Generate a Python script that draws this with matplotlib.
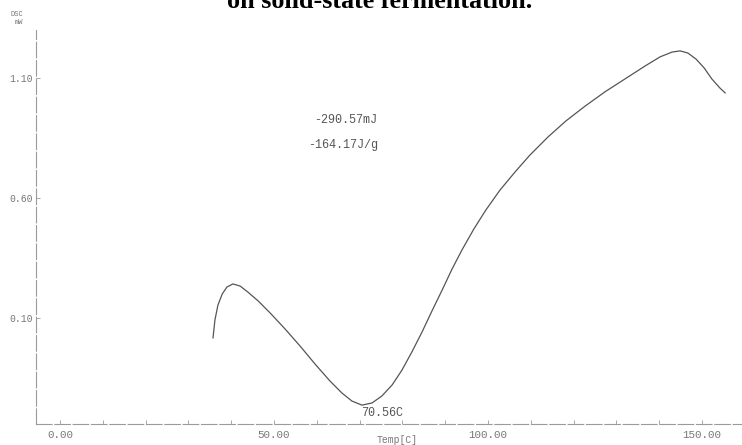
import matplotlib
matplotlib.use("Agg")
import matplotlib.pyplot as plt
from matplotlib.ticker import FixedLocator, MultipleLocator

# DSC scan: temperature (C) vs heat flow (mW)
temp_c = [35.75, 36.2, 36.9, 37.9, 39.0, 40.4, 42.1, 43.9, 46.3, 49.1,
          52.6, 56.1, 59.6, 63.1, 65.9, 68.2, 70.56, 72.9, 75.2, 77.6,
          79.9, 82.2, 84.6, 86.9, 89.3, 91.6, 93.9, 96.7, 99.5, 102.8,
          106.3, 109.8, 114.0, 118.2, 122.7, 127.3, 132.0, 136.7, 140.2,
          143.0, 144.9, 146.7, 148.6, 150.5, 152.3, 154.2, 155.4]
heat_flow = [0.017, 0.092, 0.154, 0.200, 0.229, 0.242, 0.233, 0.208, 0.171,
             0.121, 0.054, -0.017, -0.092, -0.163, -0.213, -0.246, -0.263,
             -0.254, -0.225, -0.179, -0.117, -0.042, 0.042, 0.129, 0.217,
             0.304, 0.383, 0.471, 0.550, 0.633, 0.708, 0.779, 0.854, 0.921,
             0.983, 1.042, 1.096, 1.150, 1.188, 1.208, 1.213, 1.204, 1.179,
             1.142, 1.096, 1.058, 1.038]

y_ticks = [0.10, 0.60, 1.10]
y_tick_labels = ["0.10", "0.60", "1.10"]
x_ticks = [0, 50, 100, 150]
x_tick_labels = ["0.00", "50.00", "100.00", "150.00"]

peak_temp = 70.56
peak_label = "70.56C"
energy_text = "-290.57mJ"
enthalpy_text = "-164.17J/g"

W, H = 742, 445
fig = plt.figure(figsize=(W / 100, H / 100), dpi=100)
fig.patch.set_facecolor("white")

# axes box in pixel terms (origin top-left)
left_px, bottom_px, top_px = 36, 424, 30
ax = fig.add_axes([left_px / W, (H - bottom_px) / H,
                   (W - left_px) / W, (bottom_px - top_px) / H])

px_per_c = 4.28
x0_px = 60
ax.set_xlim((left_px - x0_px) / px_per_c, (W - x0_px) / px_per_c)
px_per_mw = 240
ax.set_ylim(0.10 - (bottom_px - 318) / px_per_mw,
            0.10 + (318 - top_px) / px_per_mw)

ax.plot(temp_c, heat_flow, color="#555555", lw=0.9)

mono = "Liberation Mono"
grey = "#777777"
dark = "#555555"

for s in ["top", "right"]:
    ax.spines[s].set_visible(False)
for s in ["left", "bottom"]:
    ax.spines[s].set_color("#9a9a9a")
    ax.spines[s].set_linewidth(0.8)
    ax.spines[s].set_linestyle((0, (14, 2.5)))

ax.xaxis.set_major_locator(FixedLocator(x_ticks))
ax.xaxis.set_minor_locator(MultipleLocator(10))
ax.set_xticklabels(x_tick_labels, family=mono, fontsize=7.8, color=grey)
ax.yaxis.set_major_locator(FixedLocator(y_ticks))
ax.set_yticklabels(y_tick_labels, family=mono, fontsize=7, color=grey)
ax.tick_params(axis="both", which="both", direction="in", color="#9a9a9a",
               width=0.6, length=3, pad=4)
ax.tick_params(axis="y", pad=2)

min_flow = heat_flow[temp_c.index(peak_temp)]
ax.text(peak_temp - 0.3, min_flow - 0.008, peak_label, family=mono,
        fontsize=8.5, color=dark, ha="left", va="top")
fig.text(346 / W, 1 - 120 / H, energy_text, family=mono,
         fontsize=8.5, color=dark, ha="center", va="center")
fig.text(343 / W, 1 - 145 / H, enthalpy_text, family=mono,
         fontsize=8.5, color=dark, ha="center", va="center")

fig.text(397 / W, 1 - 440 / H, "Temp[C]", family=mono, fontsize=7,
         color=grey, ha="center", va="center")
fig.text(23 / W, 1 - 14 / H, "DSC", family=mono, fontsize=5,
         color=grey, ha="right", va="center")
fig.text(23 / W, 1 - 23 / H, "mW", family=mono, fontsize=5,
         color=grey, ha="right", va="center")

# caption line from the page above, only its lower half shows
fig.text(380 / W, 1 - 7.5 / H, "on solid-state fermentation.",
         family="Liberation Serif", fontweight="bold", fontsize=18.8,
         color="black", ha="center", va="baseline")

fig.savefig("out.png", dpi=100)
